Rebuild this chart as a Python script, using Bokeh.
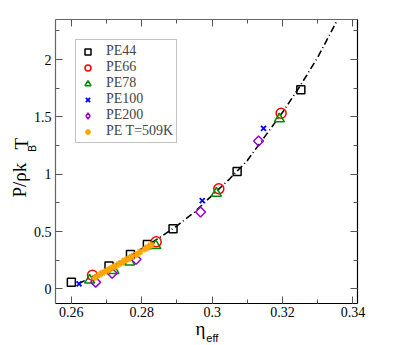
import math
from bokeh.plotting import figure
from bokeh.models import (Range1d, LinearAxis, SingleIntervalTicker, CustomJSTickFormatter,
                          Label, Legend, LegendItem)
from bokeh.embed import file_html
from bokeh.resources import INLINE

# ---------------- data ----------------
pe44_eta = [0.2600, 0.2707, 0.2768, 0.2816, 0.2889, 0.3071, 0.3252]
pe44_p = [0.058, 0.200, 0.300, 0.386, 0.524, 1.024, 1.736]

pe66_eta = [0.2660, 0.2841, 0.3019, 0.3196]
pe66_p = [0.118, 0.410, 0.873, 1.532]

pe78_eta = [0.2652, 0.2721, 0.2766, 0.2840, 0.3012, 0.3191]
pe78_p = [0.076, 0.160, 0.233, 0.377, 0.834, 1.483]

pe100_eta = [0.2622, 0.2972, 0.3146]
pe100_p = [0.044, 0.770, 1.400]

pe200_eta = [0.2669, 0.2716, 0.2784, 0.2967, 0.3132]
pe200_p = [0.058, 0.136, 0.258, 0.670, 1.290]

pe509_eta = [0.2667, 0.2679, 0.2688, 0.2699, 0.2707, 0.2717, 0.2724, 0.2735,
             0.2743, 0.2751, 0.2763, 0.2772, 0.2786, 0.2795, 0.2809, 0.2817, 0.2826]
pe509_p = [0.098, 0.122, 0.138, 0.156, 0.168, 0.186, 0.198, 0.217,
           0.228, 0.246, 0.262, 0.282, 0.300, 0.322, 0.347, 0.362, 0.381]

fit_eta = [0.2620, 0.2660, 0.2700, 0.2750, 0.2800, 0.2850, 0.2900, 0.2950,
           0.3000, 0.3050, 0.3100, 0.3150, 0.3200, 0.3250, 0.3300, 0.3360]
fit_p = [0.045, 0.105, 0.170, 0.255, 0.350, 0.445, 0.550, 0.670,
         0.815, 0.960, 1.120, 1.330, 1.540, 1.770, 2.020, 2.370]

series_names = ["PE44", "PE66", "PE78", "PE100", "PE200", "PE T=509K"]

x_min, x_max = 0.2555, 0.3413
y_min, y_max = -0.128, 2.35

SERIF = "serif"
SANS = "sans-serif"

# ---------------- figure ----------------
W, H = 397, 345
p = figure(width=W, height=H, x_range=Range1d(x_min, x_max), y_range=Range1d(y_min, y_max),
           output_backend="svg", toolbar_location=None,
           min_border_left=55, min_border_right=40, min_border_top=19, min_border_bottom=42,
           x_axis_location=None, y_axis_location=None)
p.grid.visible = False
p.outline_line_color = None
p.background_fill_color = "white"
p.border_fill_color = "white"
# off-screen range used only by the legend key of the diamond symbol
p.extra_y_ranges = {"key": Range1d(100, 101)}

fmt_code = "return parseFloat(tick.toFixed(4)).toString()"

def style_axis(ax, line_color, labels=True):
    ax.axis_line_color = line_color
    ax.axis_line_width = 1.2
    ax.major_tick_line_color = "#555555"
    ax.minor_tick_line_color = "#555555"
    ax.major_tick_in = 7
    ax.major_tick_out = 0
    ax.minor_tick_in = 4
    ax.minor_tick_out = 0
    ax.major_label_text_font = SERIF
    ax.major_label_text_font_size = "14px"
    ax.major_label_text_color = "black"
    if not labels:
        ax.formatter = CustomJSTickFormatter(code="return ''")
        ax.major_label_text_font_size = "0px"
        ax.major_label_standoff = 0

xb = LinearAxis(ticker=SingleIntervalTicker(interval=0.02, num_minor_ticks=2),
                formatter=CustomJSTickFormatter(code=fmt_code))
style_axis(xb, "black")
xb.major_label_standoff = 3
p.add_layout(xb, "below")

yl = LinearAxis(ticker=SingleIntervalTicker(interval=0.5, num_minor_ticks=2),
                formatter=CustomJSTickFormatter(code=fmt_code))
style_axis(yl, "#666666")
yl.major_label_standoff = 4
p.add_layout(yl, "left")

xt = LinearAxis(ticker=SingleIntervalTicker(interval=0.02, num_minor_ticks=2))
style_axis(xt, "#666666", labels=False)
p.add_layout(xt, "above")

yr = LinearAxis(ticker=SingleIntervalTicker(interval=0.5, num_minor_ticks=2))
style_axis(yr, "black", labels=False)
p.add_layout(yr, "right")

# ---------------- glyphs ----------------
p.line(fit_eta, fit_p, line_color="black", line_width=1.6, line_dash="7 3 1 3")

r44 = p.scatter(pe44_eta, pe44_p, marker="square", size=8, fill_color=None,
                line_color="black", line_width=1.5)
r66 = p.scatter(pe66_eta, pe66_p, marker="circle", size=10, fill_color=None,
                line_color="#FF0000", line_width=1.5)
r78 = p.scatter(pe78_eta, pe78_p, marker="triangle", size=10, fill_color=None,
                line_color="#008B00", line_width=1.5)
r100 = p.scatter(pe100_eta, pe100_p, marker="x", size=7, line_color="#0000FF", line_width=1.8)
r200 = p.scatter(pe200_eta, pe200_p, marker="square", angle=math.pi / 4, size=7, fill_color=None,
                 line_color="#9400D3", line_width=1.5)
r509 = p.scatter(pe509_eta, pe509_p, marker="asterisk", size=7, line_color="#FFA500", line_width=1.6)
# legend key for the diamond symbol (legend markers are drawn unrotated); lies off-screen
r200_key = p.scatter(pe200_eta, pe200_p, y_range_name="key", marker="diamond", size=7,
                     fill_color=None, line_color="#9400D3", line_width=1.5)

legend = Legend(items=[LegendItem(label=n, renderers=[r]) for n, r in
                       zip(series_names, [r44, r66, r78, r100, r200_key, r509])],
                location="top_left")
legend.margin = 20
legend.padding = 3
legend.spacing = 0
legend.glyph_width = 17
legend.glyph_height = 15
legend.label_height = 14
legend.label_standoff = 10
legend.label_text_font = SERIF
legend.label_text_font_size = "14px"
legend.label_text_line_height = 1.0
legend.border_line_color = "#888888"
legend.border_line_width = 1.2
legend.background_fill_color = "white"
legend.background_fill_alpha = 1
p.add_layout(legend)

# ---------------- axis titles (with subscripts), placed in side panels ----------------
def lab(place, text, sx, sy, font, size, angle=0.0):
    p.add_layout(Label(x=sx, y=sy, x_units="screen", y_units="screen", text=text,
                       text_font=font, text_font_size=size, angle=angle,
                       text_baseline="alphabetic", text_align="left", text_color="black"), place)

lab("left", "P/ρk", 9.5, 106, SERIF, "19px", angle=math.pi / 2)
lab("above", "T", -34, -130, SERIF, "19px", angle=math.pi / 2)
lab("below", "B", -23, 174.7, SANS, "10px", angle=math.pi / 2)
lab("right", "η", -162, -25, SERIF, "19px")
lab("right", "eff", -161.2, -34, SANS, "11px")

open("out.html", "w").write(file_html(p, INLINE))
